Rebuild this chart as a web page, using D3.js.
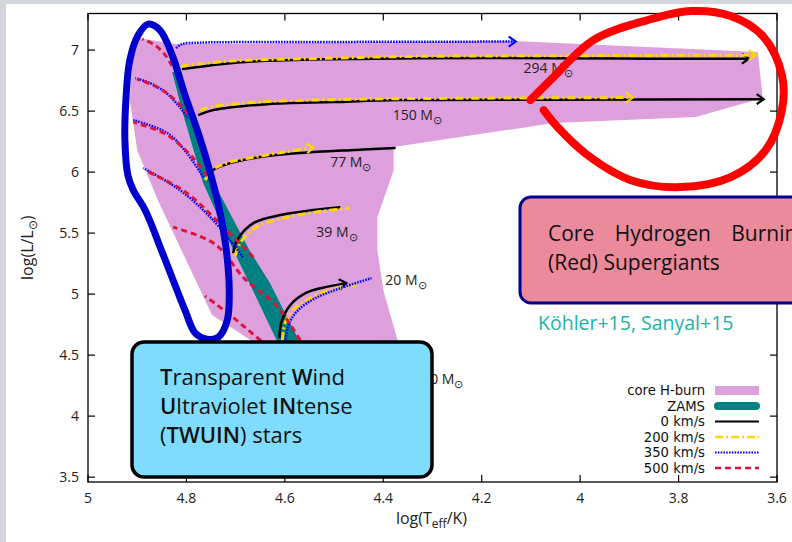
<!DOCTYPE html>
<html>
<head>
<meta charset="utf-8">
<script src="https://cdn.jsdelivr.net/npm/d3@7"></script>
<style>
    html, body { margin: 0; padding: 0; background: #d4d6dd; }
    svg { display: block; }
    text { font-family: "Open Sans", sans-serif; }
</style>
</head>
<body>
<svg id="chart" width="792" height="542"></svg>
<script>
// ---- data: [log Teff, log L] ----
const xTicks = [5, 4.8, 4.6, 4.4, 4.2, 4, 3.8, 3.6];
const yTicks = [3.5, 4, 4.5, 5, 5.5, 6, 6.5, 7];

const hburnRegion = [[4.894, 7.098], [4.823, 7.049], [4.135, 7.074], [3.639, 6.984], [3.629, 6.607],
    [3.765, 6.451], [4.054, 6.402], [4.379, 6.205], [4.379, 6.016], [4.412, 5.631], [4.412, 5.361],
    [4.400, 5.033], [4.371, 4.623], [4.365, 4.45], [4.62, 4.45], [4.670, 4.623], [4.748, 4.828],
    [4.858, 5.770], [4.900, 6.180], [4.915, 6.590], [4.910, 6.918]];

// ZAMS band, hot and cool edge, both from top to bottom
const zamsHot = [[4.829, 6.820], [4.809, 6.508], [4.766, 5.910], [4.705, 5.361], [4.672, 5.090], [4.620, 4.648], [4.607, 4.541]];
const zamsCool = [[4.821, 6.820], [4.788, 6.508], [4.744, 5.910], [4.672, 5.361], [4.630, 5.090], [4.575, 4.648], [4.565, 4.541]];

const masses = ["294", "150", "77", "39", "20", "10"];
const velocities = [0, 200, 350, 500];

const t294v0 = [[4.809, 6.844], [4.731, 6.885], [4.650, 6.910], [4.508, 6.926], [4.325, 6.934], [4.060, 6.934], [3.857, 6.930], [3.657, 6.930]];
const t294v200 = [[4.811, 6.869], [4.711, 6.910], [4.502, 6.934], [4.365, 6.947], [3.958, 6.955], [3.643, 6.959]];
const t294v350 = [[4.821, 7.016], [4.809, 7.049], [4.772, 7.061], [4.569, 7.066], [4.131, 7.070]];
const t294v500 = [[4.829, 6.869], [4.843, 6.959], [4.864, 7.041], [4.890, 7.090]];

const t150v0 = [[4.776, 6.467], [4.746, 6.508], [4.636, 6.557], [4.502, 6.574], [4.365, 6.590], [4.060, 6.594], [3.627, 6.598]];
const t150v200 = [[4.772, 6.508], [4.742, 6.541], [4.636, 6.578], [4.502, 6.594], [4.365, 6.602], [3.893, 6.611]];
const t150v350 = [[4.797, 6.443], [4.817, 6.549], [4.843, 6.656], [4.874, 6.730], [4.904, 6.770]];
const t150v500 = [[4.784, 6.410], [4.809, 6.533], [4.837, 6.639], [4.870, 6.717], [4.900, 6.762]];

const t77v0 = [[4.758, 5.951], [4.746, 6.016], [4.711, 6.074], [4.650, 6.123], [4.569, 6.156], [4.467, 6.180], [4.375, 6.197]];
const t77v200 = [[4.762, 5.934], [4.748, 6.016], [4.711, 6.082], [4.650, 6.131], [4.589, 6.172], [4.542, 6.205]];
const t77v350 = [[4.766, 5.959], [4.799, 6.156], [4.839, 6.320], [4.908, 6.426]];
const t77v500 = [[4.758, 5.967], [4.788, 6.123], [4.839, 6.303], [4.908, 6.410]];

const t39v0 = [[4.705, 5.336], [4.697, 5.443], [4.664, 5.582], [4.609, 5.648], [4.542, 5.689], [4.487, 5.713]];
const t39v200 = [[4.701, 5.311], [4.691, 5.418], [4.658, 5.549], [4.603, 5.623], [4.538, 5.672], [4.469, 5.705]];
const t39v350 = [[4.685, 5.303], [4.746, 5.607], [4.813, 5.852], [4.888, 6.033]];
const t39v500 = [[4.664, 5.303], [4.725, 5.549], [4.799, 5.828], [4.884, 6.016]];

const t20v0 = [[4.611, 4.639], [4.607, 4.770], [4.589, 4.910], [4.558, 5.008], [4.518, 5.057], [4.475, 5.090]];
const t20v200 = [[4.605, 4.623], [4.599, 4.770], [4.579, 4.885], [4.548, 4.967], [4.508, 5.033], [4.455, 5.074]];
const t20v350 = [[4.599, 4.607], [4.591, 4.762], [4.573, 4.869], [4.538, 4.967], [4.487, 5.049], [4.424, 5.131]];
const t20v500 = [[4.569, 4.623], [4.618, 4.910], [4.681, 5.123], [4.742, 5.410], [4.827, 5.549]];

const t10v500 = [[4.569, 4.361], [4.650, 4.623], [4.711, 4.828], [4.762, 4.984]];

// tracks ending with an arrow head: [mass, velocity]
const arrowTracks = [["294", 0], ["294", 200], ["294", 350], ["150", 0], ["150", 200], ["77", 200], ["20", 0]];

const massLabelAt = [[4.115, 6.811], [4.381, 6.426], [4.508, 6.041], [4.536, 5.467], [4.396, 5.074], [4.321, 4.262]];

// hand-drawn highlight loops
const twuinLoop = [[4.878, 7.213], [4.854, 7.164], [4.829, 6.959], [4.803, 6.631], [4.778, 6.344], [4.756, 6.057],
    [4.735, 5.730], [4.719, 5.361], [4.713, 5.033], [4.717, 4.787], [4.735, 4.648], [4.758, 4.631],
    [4.782, 4.680], [4.803, 4.869], [4.847, 5.320], [4.884, 5.689], [4.908, 5.852], [4.919, 5.975],
    [4.925, 6.262], [4.923, 6.590], [4.915, 6.918], [4.898, 7.123]];
const rsgLoop = [[4.101, 6.590], [4.054, 6.779], [3.973, 7.082], [3.863, 7.246], [3.775, 7.320], [3.694, 7.279],
    [3.627, 7.107], [3.590, 6.795], [3.590, 6.508], [3.623, 6.180], [3.694, 5.959], [3.796, 5.877],
    [3.897, 5.934], [3.985, 6.139], [4.046, 6.369], [4.074, 6.508]];

const legendNames = ["core H-burn", "ZAMS", "0 km/s", "200 km/s", "350 km/s", "500 km/s"];

// ---- layout / styles ----
const W = 792, H = 542;
const plot = {left: 88, right: 777, top: 13.5, bottom: 482};
const rotStyle = {
    0: {color: "#000000", dash: null, width: 2.5},
    200: {color: "#ffd700", dash: "8,3,2,3", width: 3},
    350: {color: "#0000ff", dash: "1.6,1.2", width: 2.5},
    500: {color: "#dc143c", dash: "6,4", width: 3}
};

const tracks = [
    {m: "294", v: 0, pts: t294v0}, {m: "294", v: 200, pts: t294v200}, {m: "294", v: 350, pts: t294v350}, {m: "294", v: 500, pts: t294v500},
    {m: "150", v: 0, pts: t150v0}, {m: "150", v: 200, pts: t150v200}, {m: "150", v: 350, pts: t150v350}, {m: "150", v: 500, pts: t150v500},
    {m: "77", v: 0, pts: t77v0}, {m: "77", v: 200, pts: t77v200}, {m: "77", v: 350, pts: t77v350}, {m: "77", v: 500, pts: t77v500},
    {m: "39", v: 0, pts: t39v0}, {m: "39", v: 200, pts: t39v200}, {m: "39", v: 350, pts: t39v350}, {m: "39", v: 500, pts: t39v500},
    {m: "20", v: 0, pts: t20v0}, {m: "20", v: 200, pts: t20v200}, {m: "20", v: 350, pts: t20v350}, {m: "20", v: 500, pts: t20v500},
    {m: "10", v: 500, pts: t10v500}
];

const svg = d3.select("#chart");
const x = d3.scaleLinear().domain([5, 3.6]).range([plot.left, plot.right]);
const y = d3.scaleLinear().domain([3.46, 7.3]).range([plot.bottom, plot.top]);

// slide background
svg.append("rect").attr("width", W).attr("height", H).attr("fill", "#d4d6dd");
svg.append("rect").attr("x", 6).attr("y", 4).attr("width", W - 6).attr("height", H - 4).attr("fill", "#ffffff");

const defs = svg.append("defs");
defs.append("clipPath").attr("id", "plotClip")
    .append("rect")
    .attr("x", plot.left).attr("y", plot.top)
    .attr("width", plot.right - plot.left).attr("height", plot.bottom - plot.top);

velocities.forEach(v => {
    defs.append("marker")
        .attr("id", "arrow" + v)
        .attr("markerUnits", "userSpaceOnUse")
        .attr("viewBox", "0 0 10 12")
        .attr("markerWidth", 10).attr("markerHeight", 12)
        .attr("refX", 8).attr("refY", 6)
        .attr("orient", "auto")
        .append("path")
        .attr("d", "M1,1 L8,6 L1,11")
        .attr("fill", "none")
        .attr("stroke", rotStyle[v].color)
        .attr("stroke-width", 2.2);
});

const area = svg.append("g").attr("clip-path", "url(#plotClip)");

const poly = d3.line().x(d => x(d[0])).y(d => y(d[1])).curve(d3.curveLinearClosed);
const smooth = d3.line().x(d => x(d[0])).y(d => y(d[1])).curve(d3.curveCatmullRom.alpha(0.5));

area.append("path")
    .attr("d", poly(hburnRegion))
    .attr("fill", "#dda0dd");

area.append("path")
    .attr("d", poly(zamsHot.concat(zamsCool.slice().reverse())))
    .attr("fill", "#008080");

// draw black first, then gold, blue, red
velocities.forEach(v => {
    const st = rotStyle[v];
    area.selectAll(".track-v" + v)
        .data(tracks.filter(t => t.v === v))
        .enter()
        .append("path")
        .attr("class", "track-v" + v)
        .attr("d", d => smooth(d.pts))
        .attr("fill", "none")
        .attr("stroke", st.color)
        .attr("stroke-width", st.width)
        .attr("stroke-dasharray", st.dash)
        .attr("marker-end", d => arrowTracks.some(a => a[0] === d.m && a[1] === d.v) ? "url(#arrow" + v + ")" : null);
});

// mass labels
const massLabels = svg.append("g").attr("font-size", 14).attr("fill", "#222");
masses.forEach((m, i) => {
    const t = massLabels.append("text")
        .attr("x", x(massLabelAt[i][0]))
        .attr("y", y(massLabelAt[i][1]));
    t.append("tspan").text(m + " M");
    t.append("tspan").attr("dy", 4).attr("font-size", 11).text("⊙");
});

// frame and ticks
svg.append("rect")
    .attr("x", plot.left).attr("y", plot.top)
    .attr("width", plot.right - plot.left).attr("height", plot.bottom - plot.top)
    .attr("fill", "none").attr("stroke", "#000").attr("stroke-width", 1.3);

const tickLen = 7;
const axes = svg.append("g").attr("stroke", "#000").attr("stroke-width", 1.2);
xTicks.forEach(t => {
    axes.append("line").attr("x1", x(t)).attr("x2", x(t)).attr("y1", plot.bottom).attr("y2", plot.bottom - tickLen);
    axes.append("line").attr("x1", x(t)).attr("x2", x(t)).attr("y1", plot.top).attr("y2", plot.top + tickLen);
});
yTicks.forEach(t => {
    axes.append("line").attr("x1", plot.left).attr("x2", plot.left + tickLen).attr("y1", y(t)).attr("y2", y(t));
    axes.append("line").attr("x1", plot.right).attr("x2", plot.right - tickLen).attr("y1", y(t)).attr("y2", y(t));
});

const fmt = d => d3.format("")(d);
svg.append("g").selectAll("text")
    .data(xTicks).enter().append("text")
    .attr("x", d => x(d)).attr("y", plot.bottom + 21)
    .attr("text-anchor", "middle").attr("font-size", 14).attr("fill", "#222")
    .text(fmt);
svg.append("g").selectAll("text")
    .data(yTicks).enter().append("text")
    .attr("x", plot.left - 9).attr("y", d => y(d) + 5)
    .attr("text-anchor", "end").attr("font-size", 14).attr("fill", "#222")
    .text(fmt);

// axis titles
const xTitle = svg.append("text")
    .attr("x", (plot.left + plot.right) / 2 - 1).attr("y", 524)
    .attr("text-anchor", "middle").attr("font-size", 16).attr("fill", "#222");
xTitle.append("tspan").text("log(T");
xTitle.append("tspan").attr("dy", 4).attr("font-size", 12).text("eff");
xTitle.append("tspan").attr("dy", -4).text("/K)");

const yTitle = svg.append("text")
    .attr("transform", "translate(33," + ((plot.top + plot.bottom) / 2) + ") rotate(-90)")
    .attr("text-anchor", "middle").attr("font-size", 16).attr("fill", "#222");
yTitle.append("tspan").text("log(L/L");
yTitle.append("tspan").attr("dy", 4).attr("font-size", 12).text("⊙");
yTitle.append("tspan").attr("dy", -4).text(")");

// legend
const legend = svg.append("g").attr("font-size", 13.2).attr("fill", "#111")
    .style("font-family", "'DejaVu Sans', sans-serif");
const legTextX = 705, legX0 = 715, legX1 = 759, legY0 = 395, legStep = 15.5;
legendNames.forEach((name, i) => {
    const by = legY0 + i * legStep;
    legend.append("text").attr("x", legTextX).attr("y", by).attr("text-anchor", "end")
        .style("font-family", "'DejaVu Sans', sans-serif").text(name);
    const sy = by - 4.5;
    if (i === 0) {
        legend.append("rect").attr("x", legX0).attr("y", sy - 4.5).attr("width", legX1 - legX0).attr("height", 9).attr("fill", "#dda0dd");
    } else if (i === 1) {
        legend.append("line").attr("x1", legX0 + 3).attr("x2", legX1 - 3).attr("y1", sy).attr("y2", sy)
            .attr("stroke", "#008080").attr("stroke-width", 8).attr("stroke-linecap", "round");
    } else {
        const st = rotStyle[velocities[i - 2]];
        legend.append("line").attr("x1", legX0).attr("x2", legX1).attr("y1", sy).attr("y2", sy)
            .attr("stroke", st.color).attr("stroke-width", st.width - 0.5).attr("stroke-dasharray", st.dash);
    }
});

// highlight loops
svg.append("path")
    .attr("d", d3.line().x(d => x(d[0])).y(d => y(d[1])).curve(d3.curveCatmullRomClosed.alpha(0.5))(twuinLoop))
    .attr("fill", "none").attr("stroke", "#0000cd").attr("stroke-width", 7);
svg.append("path")
    .attr("d", smooth(rsgLoop))
    .attr("fill", "none").attr("stroke", "#ff0000").attr("stroke-width", 8).attr("stroke-linecap", "round");

// TWUIN box
svg.append("rect")
    .attr("x", 132).attr("y", 342).attr("width", 300).attr("height", 135)
    .attr("rx", 12).attr("fill", "#80dcfc").attr("stroke", "#000").attr("stroke-width", 3.5);
const twuinLines = [
    [["T", 1], ["ransparent ", 0], ["W", 1], ["ind", 0]],
    [["U", 1], ["ltraviolet ", 0], ["IN", 1], ["tense", 0]],
    [["(", 0], ["TWUIN", 1], [") stars", 0]]
];
twuinLines.forEach((parts, i) => {
    const t = svg.append("text").attr("x", 160).attr("y", 385 + i * 29)
        .attr("font-size", 22).attr("fill", "#111").attr("xml:space", "preserve");
    parts.forEach(p => t.append("tspan").attr("font-weight", p[1] ? 600 : 400).text(p[0]));
});

// RSG box (runs off the right edge of the slide, as in the original)
svg.append("rect")
    .attr("x", 520).attr("y", 197).attr("width", 300).attr("height", 106)
    .attr("rx", 11).attr("fill", "#eb8a9b").attr("stroke", "#00008f").attr("stroke-width", 3);
svg.append("text").attr("x", 548).attr("y", 241).attr("font-size", 21).attr("fill", "#111")
    .attr("word-spacing", 15).text("Core Hydrogen Burning");
svg.append("text").attr("x", 548).attr("y", 270).attr("font-size", 21).attr("fill", "#111")
    .text("(Red) Supergiants");

svg.append("text").attr("x", 538).attr("y", 330).attr("font-size", 19.5).attr("fill", "#22b2a6")
    .text("Köhler+15, Sanyal+15");
</script>
</body>
</html>
